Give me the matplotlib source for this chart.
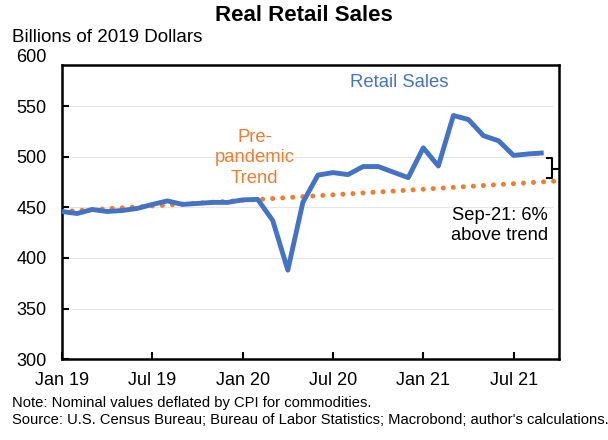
import numpy as np
import matplotlib.pyplot as plt

plt.rcParams['font.family'] = ['Liberation Sans', 'DejaVu Sans']

# monthly real retail sales, Jan 2019 .. Sep 2021 (billions of 2019 dollars)
sales = [446, 444, 448, 446, 447, 449, 453, 456.5, 453, 454, 455, 455,
         457.5, 458, 437, 388, 455, 482, 484.5, 482.5, 490.5, 490.5, 485, 479.5,
         509, 491, 541, 537, 521, 516, 501.5, 503, 504]
months = np.arange(len(sales))

# pre-pandemic trend, read at Jan 19 and at the right edge (Oct 21)
trend_x = [0, 33]
trend_y = [446.0, 476.3]

tick_pos = [0, 6, 12, 18, 24, 30]
tick_labels = ["Jan 19", "Jul 19", "Jan 20", "Jul 20", "Jan 21", "Jul 21"]
y_ticks = [300, 350, 400, 450, 500, 550, 600]

blue = "#4472C4"
orange = "#ED7D31"

fig = plt.figure(figsize=(6.08, 4.4), dpi=100)
ax = fig.add_axes([0.102, 0.184, 0.817, 0.689])

for y in y_ticks[1:-1]:
    ax.axhline(y, xmin=0.0, xmax=0.986, color="#e6e6e6", lw=0.8, zorder=0)

ax.plot(trend_x, trend_y, color=orange, lw=3.6, dashes=(0.01, 2.0),
        dash_capstyle="round", zorder=2)
ax.plot(months, sales, color=blue, lw=3.5, solid_joinstyle="round",
        solid_capstyle="butt", zorder=3)

ax.set_xlim(0, 33)
ax.set_ylim(300, 600)
ax.set_xticks(tick_pos)
ax.set_xticklabels(tick_labels)
ax.set_yticks(y_ticks)
ax.tick_params(axis="both", direction="in", length=5, width=1.5,
               labelsize=13, colors="black")
ax.tick_params(axis="y", pad=11)
ax.tick_params(axis="x", pad=9)
ax.yaxis.get_major_ticks()[-1].tick1line.set_visible(False)

# plot box closes a bit below 600
for s in ["left", "right"]:
    ax.spines[s].set_bounds(300, 591)
ax.spines["top"].set_position(("data", 591))
for s in ax.spines.values():
    s.set_linewidth(1.8)

# bracket between last value and trend
bx0, bx1, btip = 32.2, 32.58, 33.0
btop, bbot, bmid = 499.4, 478.7, 488.5
ax.plot([bx0, bx1, bx1, bx0], [btop, btop, bbot, bbot], color="black",
        lw=1.5, clip_on=False, zorder=4)
ax.plot([bx1, btip], [bmid, bmid], color="black", lw=1.5, clip_on=False, zorder=4)

ax.text(22.4, 574, "Retail Sales", color=blue, fontsize=13.3, ha="center", va="center")
ax.text(12.8, 499, "Pre-\npandemic\nTrend", color=orange, fontsize=13.3,
        ha="center", va="center", linespacing=1.25)
ax.text(29.1, 432, "Sep-21: 6%\nabove trend", color="black", fontsize=13.2,
        ha="center", va="center", linespacing=1.2)

fig.text(0.5, 0.965, "Real Retail Sales", fontsize=16, fontweight="bold",
         ha="center", va="center")
fig.text(0.02, 0.914, "Billions of 2019 Dollars", fontsize=13.5, ha="left", va="center")
fig.text(0.02, 0.084, "Note: Nominal values deflated by CPI for commodities.",
         fontsize=10.6, ha="left", va="center")
fig.text(0.02, 0.045,
         "Source: U.S. Census Bureau; Bureau of Labor Statistics; Macrobond; author's calculations.",
         fontsize=10.6, ha="left", va="center")

fig.savefig("out.png", dpi=100)
